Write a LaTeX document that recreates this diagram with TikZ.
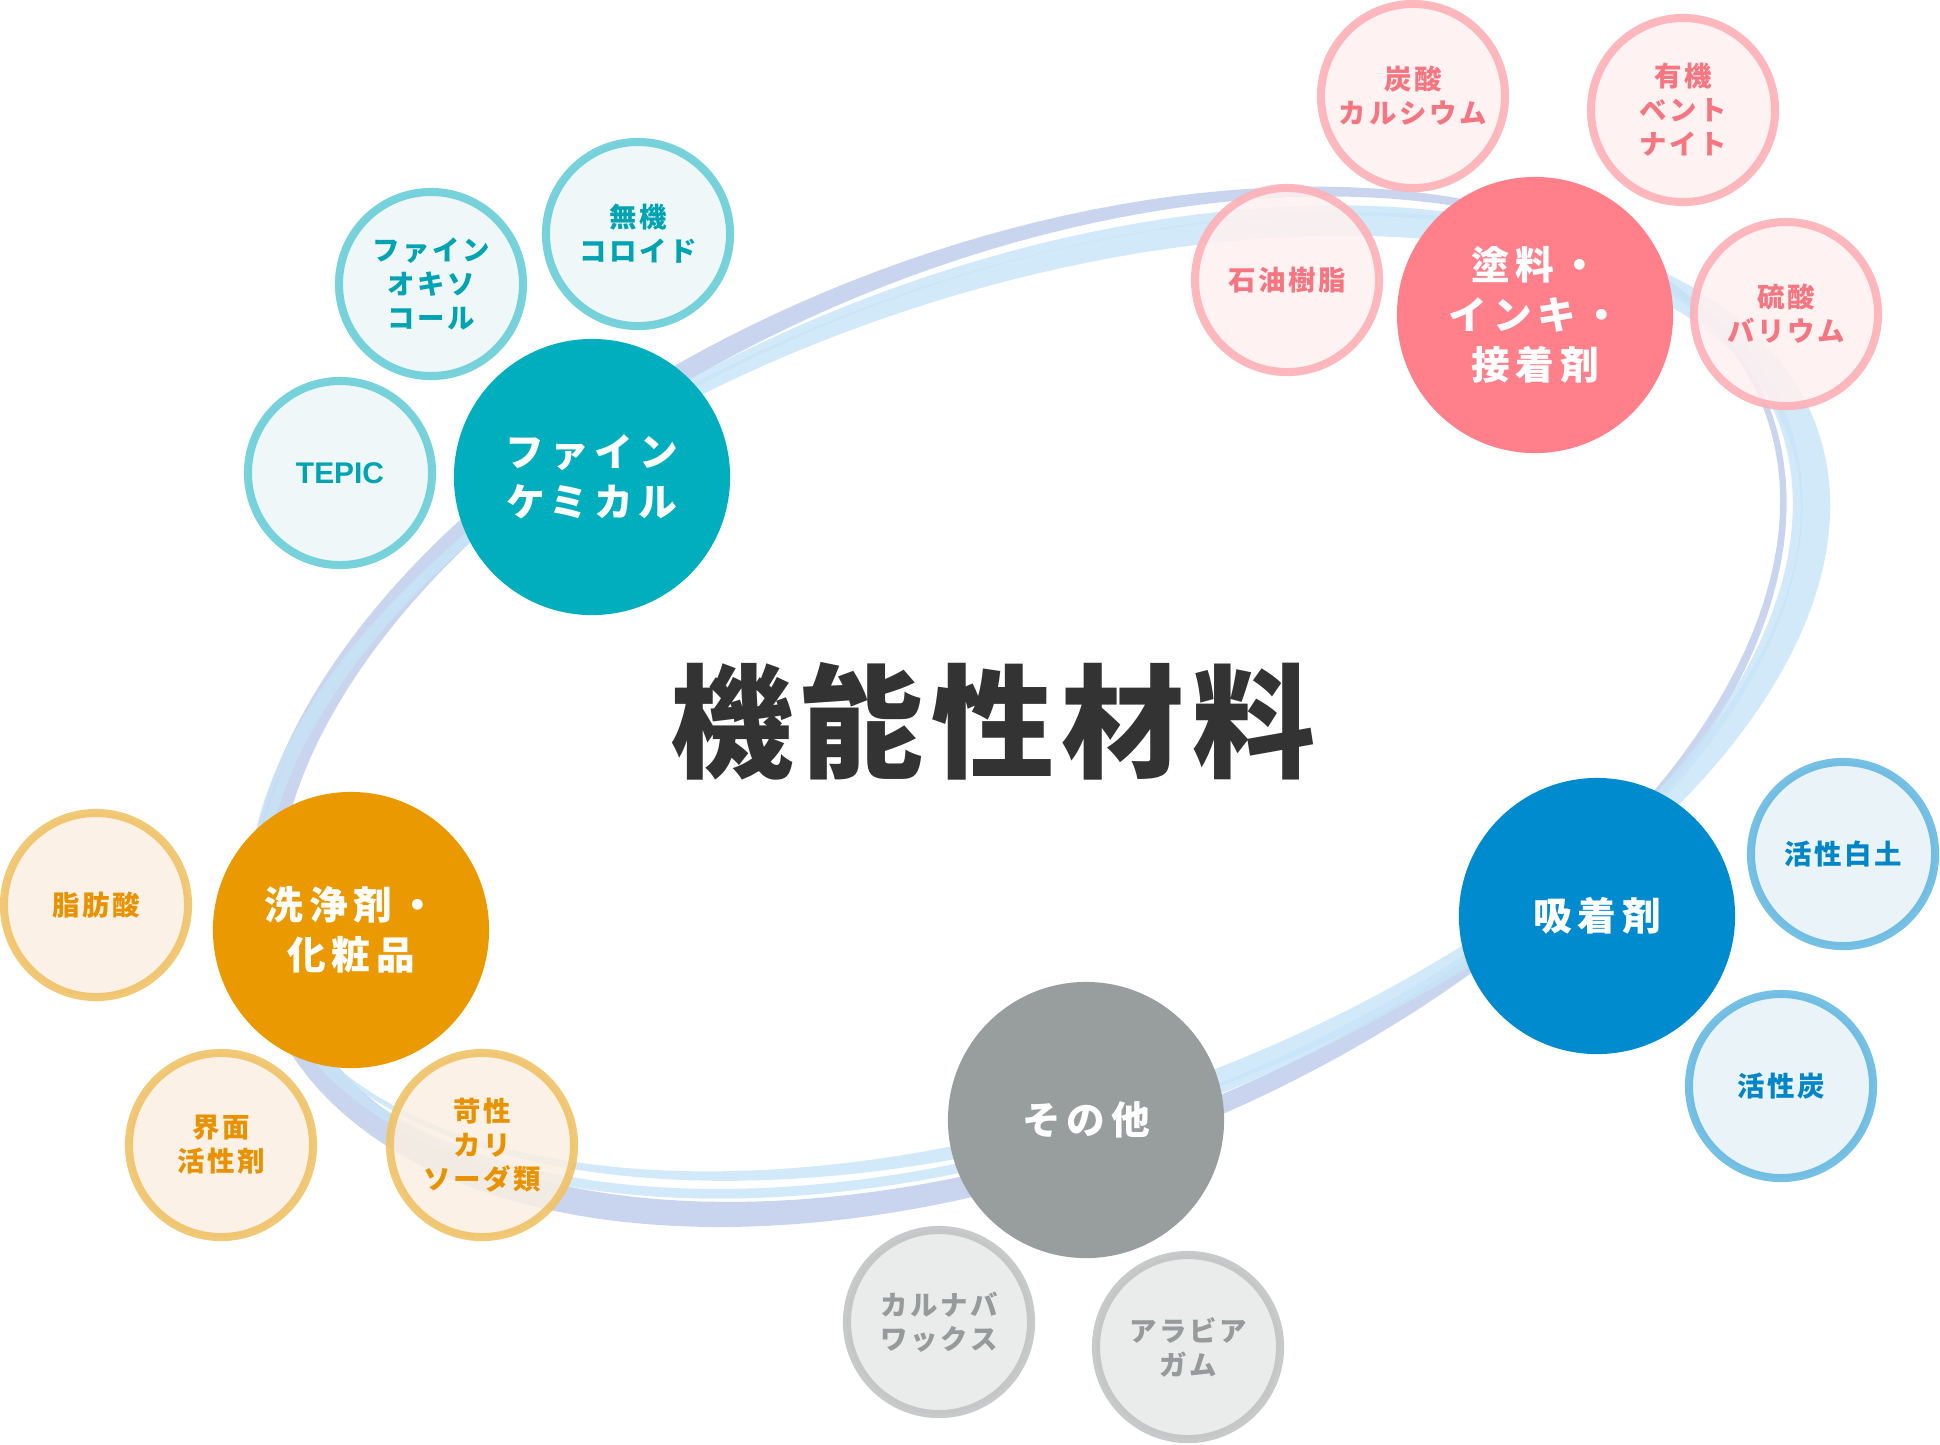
\documentclass[tikz,border=0pt]{standalone}
\usepackage{fontspec}
\newfontfamily\jp{Noto Sans CJK JP}[LetterSpace=15]
\newfontfamily\jpsat{Noto Sans CJK JP}[LetterSpace=10]
\newfontfamily\jptitle{Noto Sans CJK JP}[LetterSpace=6]
\newfontfamily\latin{Liberation Sans}
\definecolor{titlegray}{RGB}{51,51,51}
\definecolor{bandpurple}{RGB}{188,203,235}
\definecolor{bandblue}{RGB}{199,228,247}
% main circles
\definecolor{chemteal}{RGB}{0,174,190}
\definecolor{paintpink}{RGB}{255,128,138}
\definecolor{cleanorange}{RGB}{234,154,0}
\definecolor{adsblue}{RGB}{0,139,207}
\definecolor{othergray}{RGB}{152,157,157}
% satellites
\definecolor{tealring}{RGB}{104,205,215}
\definecolor{tealpale}{RGB}{236,246,248}
\definecolor{tealtext}{RGB}{0,163,178}
\definecolor{pinkring}{RGB}{253,176,183}
\definecolor{pinkpale}{RGB}{255,240,241}
\definecolor{pinktext}{RGB}{245,118,128}
\definecolor{orangering}{RGB}{240,194,102}
\definecolor{orangepale}{RGB}{250,239,226}
\definecolor{orangetext}{RGB}{232,146,0}
\definecolor{bluering}{RGB}{102,185,226}
\definecolor{bluepale}{RGB}{230,242,247}
\definecolor{bluetext}{RGB}{0,133,200}
\definecolor{grayring}{RGB}{193,196,196}
\definecolor{graypale}{RGB}{230,231,231}
\definecolor{graytext}{RGB}{150,154,154}

\tikzset{
  main/.style={circle, minimum size=2.76cm, inner sep=0pt, align=center, text=white,
    font=\jp\bfseries\fontsize{11pt}{14.2pt}\selectfont},
  sat/.style={circle, minimum size=1.84cm, inner sep=0pt, align=center, line width=2.3pt,
    draw opacity=0.9, fill opacity=0.85, text opacity=1,
    font=\jpsat\bfseries\fontsize{7.8pt}{9.7pt}\selectfont},
  tealsat/.style={sat, draw=tealring, fill=tealpale, text=tealtext},
  pinksat/.style={sat, draw=pinkring, fill=pinkpale, text=pinktext},
  orangesat/.style={sat, draw=orangering, fill=orangepale, text=orangetext},
  bluesat/.style={sat, draw=bluering, fill=bluepale, text=bluetext},
  graysat/.style={sat, draw=grayring, fill=graypale, text=graytext},
  band/.style={even odd rule, fill opacity=0.8}
}

\begin{document}
\begin{tikzpicture}[x=0.01cm, y=-0.01cm]
  \useasboundingbox (0,0) rectangle (1940,1444);

  % Purple band, thin on the right
  \fill[band, fill=bandpurple, shift={(1023,703)}, rotate=22] %
    plot[domain=0:360, samples=181, variable=\t] %
      ({(800+9+6*cos(\t-175))*cos(\t)}, {(447+9+6*cos(\t-175))*sin(\t)}) -- cycle %
    plot[domain=0:360, samples=181, variable=\t] %
      ({(800-9-6*cos(\t-175))*cos(\t)}, {(447-9-6*cos(\t-175))*sin(\t)}) -- cycle;

  % Light blue band, wide on the right
  \fill[band, fill=bandblue, shift={(1033,700)}, rotate=19] %
    plot[domain=0:360, samples=181, variable=\t] %
      ({(815+8.5+6.5*cos(\t))*cos(\t)}, {(418+8.5+6.5*cos(\t))*sin(\t)}) -- cycle %
    plot[domain=0:360, samples=181, variable=\t] %
      ({(815-8.5-6.5*cos(\t))*cos(\t)}, {(418-8.5-6.5*cos(\t))*sin(\t)}) -- cycle;

  % Second light blue band
  \fill[band, fill=bandblue, shift={(1028,702)}, rotate=20.5] %
    plot[domain=0:360, samples=181, variable=\t] %
      ({(806+5)*cos(\t)}, {(430+5)*sin(\t)}) -- cycle %
    plot[domain=0:360, samples=181, variable=\t] %
      ({(806-5)*cos(\t)}, {(430-5)*sin(\t)}) -- cycle;

  % Fine chemicals
  \node[tealsat, font=\latin\bfseries\fontsize{8.5pt}{10pt}\selectfont] %
    (tepic) at (340,473) {TEPIC};
  \node[tealsat] (oxo) at (431,284) {ファイン\\オキソ\\コール};
  \node[tealsat] (colloid) at (638,234) {無機\\コロイド};
  \node[main, fill=chemteal] (chem) at (592,477) {ファイン\\ケミカル};

  % Paints, inks, adhesives
  \node[pinksat] (caco) at (1413,96) {炭酸\\カルシウム};
  \node[pinksat] (bento) at (1683,110) {有機\\ベント\\ナイト};
  \node[pinksat] (baso) at (1786,314) {硫酸\\バリウム};
  \node[pinksat] (resin) at (1287,280) {石油樹脂};
  \node[main, fill=paintpink] (paint) at (1535,315) {塗料・\\インキ・\\接着剤};

  % Detergents, cosmetics
  \node[orangesat] (fatty) at (96,905) {脂肪酸};
  \node[orangesat] (surf) at (221,1145) {界面\\活性剤};
  \node[orangesat] (caustic) at (482,1145) {苛性\\カリ\\ソーダ類};
  \node[main, fill=cleanorange] (clean) at (351,930) {洗浄剤・\\化粧品};

  % Others
  \node[graysat] (carnauba) at (939,1322) {カルナバ\\ワックス};
  \node[graysat] (arabic) at (1188,1347) {アラビア\\ガム};
  \node[main, fill=othergray] (other) at (1086,1120) {その他};

  % Adsorbents
  \node[bluesat] (clay) at (1843,854) {活性白土};
  \node[bluesat] (carbon) at (1781,1086) {活性炭};
  \node[main, fill=adsblue] (ads) at (1597,916) {吸着剤};

  % Title
  \node[text=titlegray, font=\jptitle\bfseries\fontsize{35pt}{40pt}\selectfont] %
    (title) at (993,721) {機能性材料};
\end{tikzpicture}
\end{document}
